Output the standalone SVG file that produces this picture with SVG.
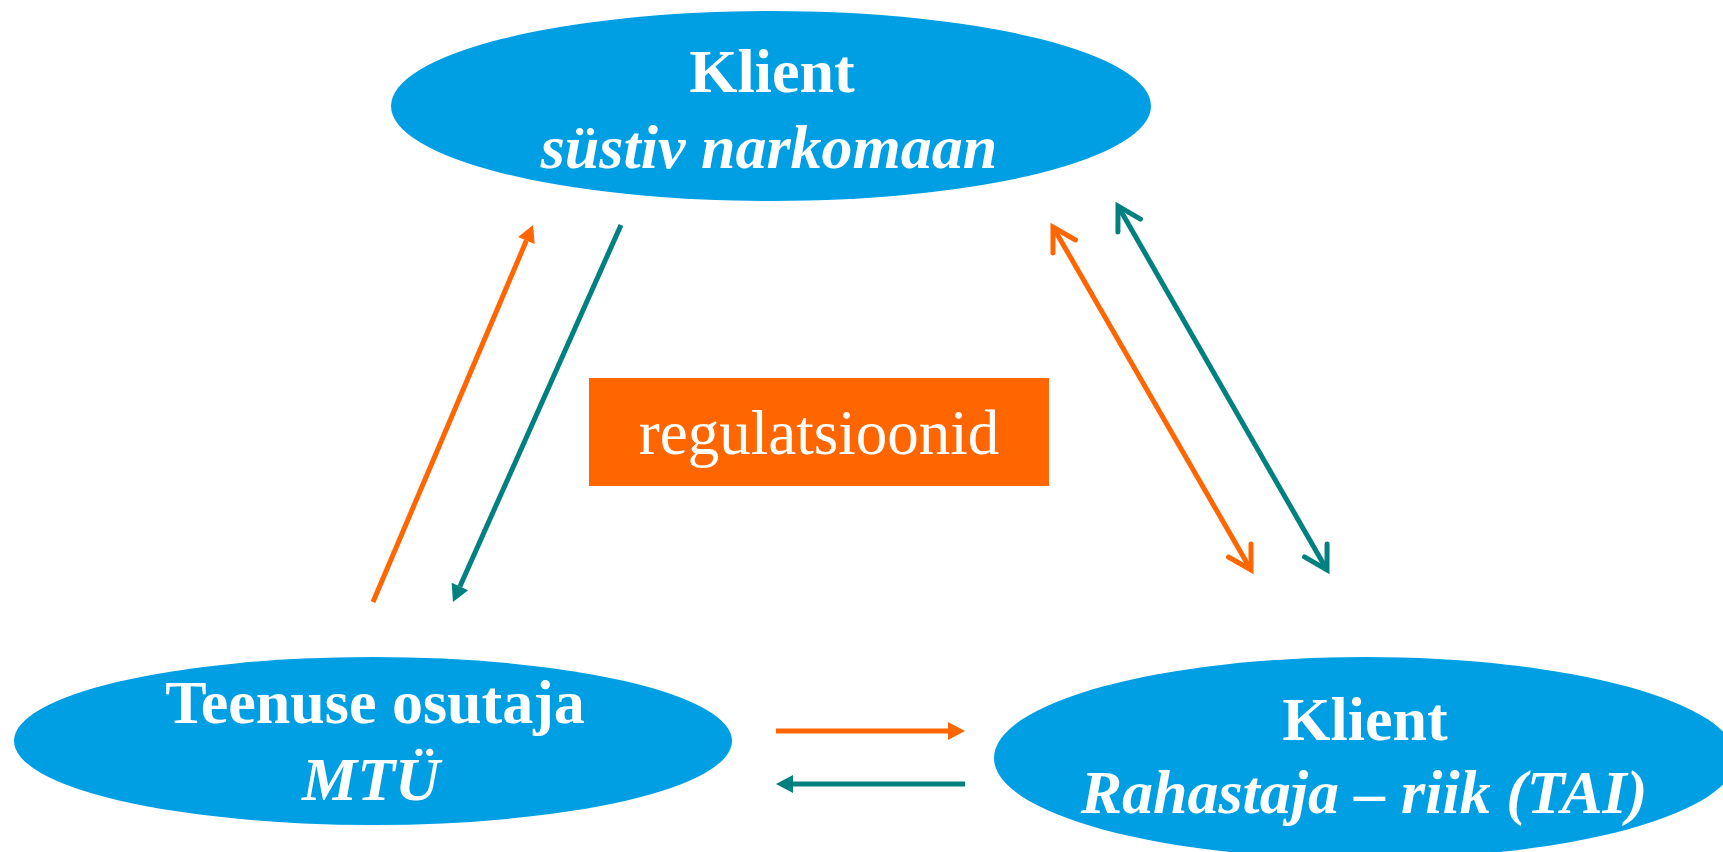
<svg xmlns="http://www.w3.org/2000/svg" width="1723" height="852" viewBox="0 0 1723 852">
  <style>
    .node { fill: #009FE3; }
    .t { font-family: "Liberation Serif", "Times New Roman", serif; fill: #FFFFFF; text-anchor: middle; font-size: 62px; }
    .b { font-weight: bold; }
    .bi { font-weight: bold; font-style: italic; }
    .or { stroke: #FF6600; stroke-width: 5; fill: none; }
    .te { stroke: #008080; stroke-width: 5; fill: none; }
  </style>
  <defs>
    <marker id="fo" markerUnits="userSpaceOnUse" viewBox="0 -9 17 18" refX="0" refY="0" markerWidth="17" markerHeight="18" orient="auto" overflow="visible">
      <path d="M0,-9 L17,0 L0,9 z" fill="#FF6600"/>
    </marker>
    <marker id="ft" markerUnits="userSpaceOnUse" viewBox="0 -9 17 18" refX="0" refY="0" markerWidth="17" markerHeight="18" orient="auto" overflow="visible">
      <path d="M0,-9 L17,0 L0,9 z" fill="#008080"/>
    </marker>
    <marker id="vo" markerUnits="userSpaceOnUse" viewBox="-30 -20 40 40" refX="0" refY="0" markerWidth="40" markerHeight="40" orient="auto-start-reverse" overflow="visible">
      <path d="M-22.5,-13 L0,0 L-22.5,13" fill="none" stroke="#FF6600" stroke-width="5" stroke-linecap="round" stroke-linejoin="miter"/>
    </marker>
    <marker id="vt" markerUnits="userSpaceOnUse" viewBox="-30 -20 40 40" refX="0" refY="0" markerWidth="40" markerHeight="40" orient="auto-start-reverse" overflow="visible">
      <path d="M-22.5,-13 L0,0 L-22.5,13" fill="none" stroke="#008080" stroke-width="5" stroke-linecap="round" stroke-linejoin="miter"/>
    </marker>
  </defs>

  <g id="klient-top">
    <ellipse class="node" cx="771" cy="106" rx="380" ry="95"/>
    <text class="t b" x="772" y="92">Klient</text>
    <text class="t bi" x="769" y="168">süstiv narkomaan</text>
  </g>

  <g id="teenuse-osutaja">
    <ellipse class="node" cx="373" cy="741" rx="359" ry="84"/>
    <text class="t b" x="375" y="723">Teenuse osutaja</text>
    <text class="t bi" x="371" y="800">MTÜ</text>
  </g>

  <g id="klient-rahastaja">
    <ellipse class="node" cx="1365" cy="758" rx="371" ry="101"/>
    <text class="t b" x="1365" y="740">Klient</text>
    <text class="t bi" x="1364" y="813">Rahastaja – riik (TAI)</text>
  </g>

  <g id="regulatsioonid">
    <rect x="589" y="378" width="460" height="108" fill="#FF6600"/>
    <text class="t" x="819" y="454" style="font-size:63px">regulatsioonid</text>
  </g>

  <g id="connectors">
    <line class="or" x1="373" y1="602" x2="526.4" y2="240.6" marker-end="url(#fo)"/>
    <line class="te" x1="621" y1="225" x2="459.9" y2="586.5" marker-end="url(#ft)"/>
    <line class="or" x1="1053" y1="227" x2="1251" y2="570" marker-start="url(#vo)" marker-end="url(#vo)"/>
    <line class="te" x1="1118" y1="206" x2="1327" y2="570" marker-start="url(#vt)" marker-end="url(#vt)"/>
    <line class="or" x1="776" y1="731" x2="948" y2="731" marker-end="url(#fo)"/>
    <line class="te" x1="965" y1="784" x2="793" y2="784" marker-end="url(#ft)"/>
  </g>
</svg>
